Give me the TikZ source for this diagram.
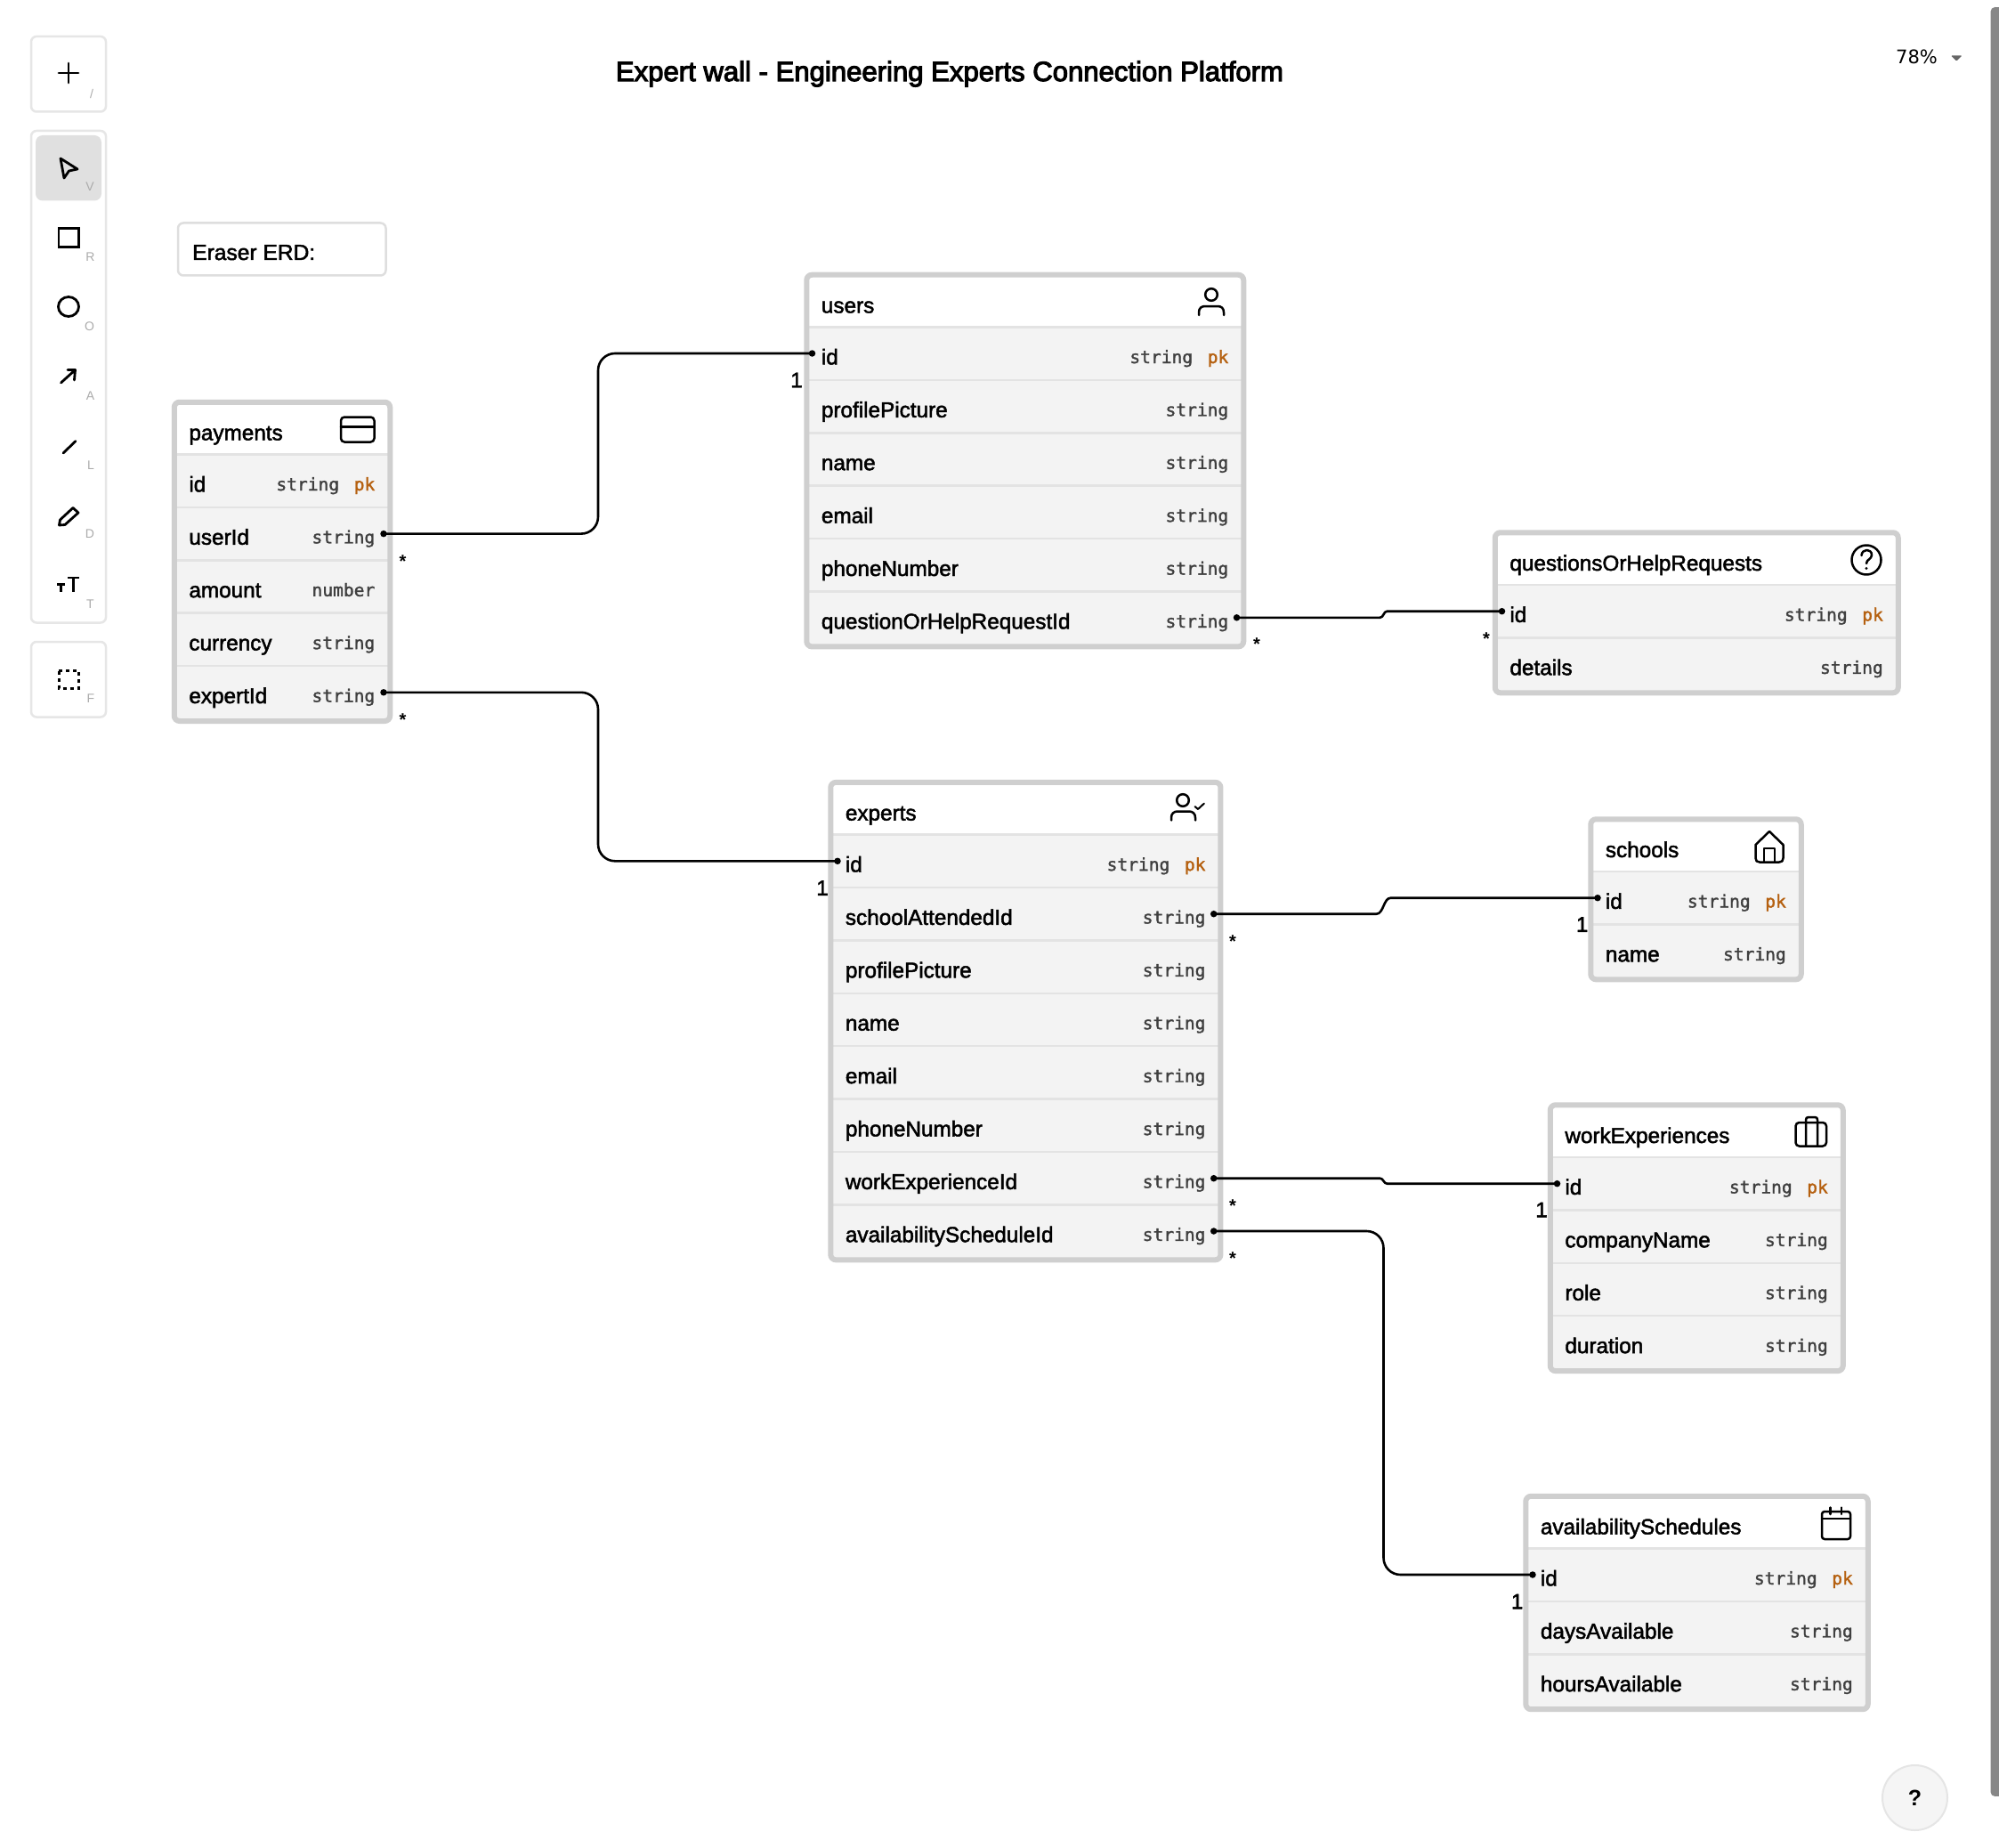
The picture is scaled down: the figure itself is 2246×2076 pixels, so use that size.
\documentclass[tikz,border=0pt]{standalone}
\usepackage{fontspec}
\setmainfont{Liberation Sans}
\newfontfamily\monof[FakeBold=1.5]{DejaVu Sans Mono}
\newfontfamily\sansdj{DejaVu Sans}
\newfontfamily\labf[FakeBold=2.0]{Liberation Sans}
\newfontfamily\titlef[FakeBold=3.5]{Liberation Sans}
\usetikzlibrary{calc}
\definecolor{tborder}{HTML}{CFCFCF}
\definecolor{rowfill}{HTML}{F3F3F3}
\definecolor{rowline}{HTML}{E3E3E3}
\definecolor{pkc}{HTML}{B5600F}
\definecolor{typec}{HTML}{3F3F3F}
\definecolor{toolb}{HTML}{E6E6E6}
\definecolor{keyc}{HTML}{ABABAB}
\newcommand{\pk}{\hspace{16.5pt}\textcolor{pkc}{pk}}
\tikzset{
  toolbox/.style={draw=toolb,line width=2.5pt,fill=white,rounded corners=6pt},
  keylab/.style={font=\fontsize{14}{14}\selectfont,text=keyc,inner sep=0pt},
  toolicon/.style={draw=black,line width=2.8pt,line join=round,line cap=round},
  erdicon/.style={draw=black,line width=2.5pt,line join=round,line cap=round},
  tablebox/.style={draw=tborder,line width=6pt,rounded corners=6pt},
  titlelab/.style={font=\labf\fontsize{24.3}{24}\selectfont,anchor=base west,inner sep=0pt},
  rowlab/.style={font=\labf\fontsize{24.3}{24}\selectfont,anchor=base west,inner sep=0pt},
  typelab/.style={font=\monof\fontsize{19.6}{20}\selectfont,text=typec,anchor=base east,inner sep=0pt},
  conn/.style={draw=black,line width=2.6pt,line join=round},
  dot/.style={circle,fill=black,inner sep=0pt,minimum size=7.5pt},
  one/.style={font=\labf\fontsize{24}{24}\selectfont,inner sep=0pt},
  many/.style={font=\bfseries\fontsize{20}{20}\selectfont,inner sep=0pt}
}
% #1 name, #2 left, #3 right, #4 top, #5 number of rows, #6 title, #7 rows
\newcommand{\erdtable}[7]{%
  \pgfmathsetmacro\hh{#4+61}
  \pgfmathsetmacro\bb{#4+61+59.4*#5+2.5}
  \fill[white,rounded corners=6pt] (#2+2.25,#4+2.25) rectangle (#3-2.25,\bb);
  \fill[rowfill] (#2+2.25,\hh) rectangle (#3-2.25,\bb);
  \draw[rowline,line width=2.5pt] (#2+2.25,\hh) -- (#3-2.25,\hh);
  \node[titlelab] (#1-title) at (#2+18.7,#4+45) {#6};
  \foreach \lab/\typ [count=\i] in {#7} {
    \pgfmathsetmacro\ry{\hh+59.4*(\i-0.5)+12.2}
    \pgfmathsetmacro\ty{\hh+59.4*(\i-0.5)+10.8}
    \node[rowlab] (#1-\i) at (#2+18.7,\ry) {\lab};
    \node[typelab] (#1-type-\i) at (#3-19,\ty) {\typ};
    \ifnum\i<#5\relax
      \pgfmathsetmacro\ly{\hh+59.4*\i}
      \draw[rowline,line width=2.5pt] (#2+2.25,\ly) -- (#3-2.25,\ly);
    \fi
  }
  \path[tablebox] (#2+2.25,#4+2.25) rectangle (#3-2.25,\bb);
}
\begin{document}
\begin{tikzpicture}[x=1pt,y=-1pt]
\useasboundingbox (0,0) rectangle (2246,2076);
\fill[white] (0,0) rectangle (2246,2076);

% toolbar
\path[toolbox] (35,41) rectangle (119,125.5);
\path[toolbox] (35,147) rectangle (119,699.5);
\path[toolbox] (35,721) rectangle (119,805.5);
\fill[black!12,rounded corners=8pt] (40,152) rectangle (114,225.5);
\draw[toolicon] (66,82) -- (88,82) (77,71) -- (77,93);
\draw[toolicon] (68,178) -- (87,190) -- (77.5,192) -- (72,200) -- cycle;
\draw[toolicon,line cap=butt,line join=miter] (66,256.5) rectangle (88.5,277.5);
\draw[toolicon] (77,344.5) ellipse (11.5pt and 11pt);
\draw[toolicon] (68.5,430) -- (84.5,415.5) (76,415.5) -- (84.5,415.5) -- (83.5,427);
\draw[toolicon] (71,509) -- (85,495.5);
\draw[toolicon] (66.5,590) -- (67.5,584) -- (82,570.5) -- (88,576) -- (73,589.5) -- cycle;
\draw[toolicon,line cap=butt,line join=miter] (76,649) -- (89,649) (82.5,649) -- (82.5,664.5);
\draw[toolicon,line cap=butt,line join=miter] (64,656.5) -- (73,656.5) (68.5,656.5) -- (68.5,664.5);
\draw[toolicon,line width=3pt,dash pattern=on 4.5pt off 3.5pt,line cap=butt,line join=miter] (66,753.5) rectangle (88.5,773);
\node[keylab] (keyslash) at (103,105) {/};
\node[keylab] (keyv) at (101,210) {V};
\node[keylab] (keyr) at (101.5,289) {R};
\node[keylab] (keyo) at (100.5,367) {O};
\node[keylab] (keya) at (101.5,445) {A};
\node[keylab] (keyl) at (102,523) {L};
\node[keylab] (keyd) at (101,600) {D};
\node[keylab] (keyt) at (101.5,679) {T};
\node[keylab] (keyf) at (102,785) {F};

% title and top right
\node[inner sep=0pt,font=\titlef\fontsize{31.1}{31}\selectfont] (title) at (1067,83) {Expert wall - Engineering Experts Connection Platform};
\node[inner sep=0pt,font=\sansdj\fontsize{21}{21}\selectfont] (zoomlab) at (2153.5,64) {78\%};
\fill[black!60,rounded corners=1pt] (2192,62.5) -- (2204.5,62.5) -- (2198.2,68.5) -- cycle;
\fill[black!47,rounded corners=5pt] (2236.5,8) rectangle (2246,2018);
\fill[black!47] (2241,8) rectangle (2246,2018);

% help button
\draw[fill=black!4,draw=black!10,line width=2pt] (2151.5,2019.5) circle (36.5pt);
\node[inner sep=0pt,font=\bfseries\fontsize{25}{25}\selectfont] (help) at (2151.5,2020) {?};

% note
\draw[draw=black!13,line width=2.5pt,fill=white,rounded corners=6pt] (200,250.5) rectangle (433.5,309.5);
\node[inner sep=0pt,anchor=base west,font=\labf\fontsize{24.6}{24}\selectfont] (note) at (216,292) {Eraser ERD:};

% tables
\erdtable{users}{904}{1399.5}{306.5}{6}{users}{id/string\pk,profilePicture/string,name/string,email/string,phoneNumber/string,questionOrHelpRequestId/string}
\erdtable{pay}{193.5}{440.5}{449.5}{5}{payments}{id/string\pk,userId/string,amount/number,currency/string,expertId/string}
\erdtable{ques}{1677.5}{2135}{596}{2}{questionsOrHelpRequests}{id/string\pk,details/string}
\erdtable{exp}{931}{1373.7}{876.6}{8}{experts}{id/string\pk,schoolAttendedId/string,profilePicture/string,name/string,email/string,phoneNumber/string,workExperienceId/string,availabilityScheduleId/string}
\erdtable{sch}{1785}{2026}{918}{2}{schools}{id/string\pk,name/string}
\erdtable{work}{1739.5}{2073}{1239}{4}{workExperiences}{id/string\pk,companyName/string,role/string,duration/string}
\erdtable{avail}{1712}{2101}{1678.5}{3}{availabilitySchedules}{id/string\pk,daysAvailable/string,hoursAvailable/string}

% icons
\draw[erdicon] (1361,331) circle (6.8pt);
\draw[erdicon] (1347,354) -- (1347,351) .. controls (1347,346) and (1350,344) .. (1354,344) -- (1368,344) .. controls (1372,344) and (1375,346) .. (1375,351) -- (1375,354);
\draw[erdicon,rounded corners=4pt] (383,468.5) rectangle (420.5,496.5);
\draw[erdicon] (383,479.5) -- (420.5,479.5);
\draw[erdicon] (2097,629) circle (16.5pt);
\draw[erdicon] (2091.5,624) .. controls (2092,616) and (2103,616) .. (2103,623.5) .. controls (2103,628) and (2097,628.5) .. (2097,633);
\fill (2097,638.5) circle (1.6pt);
\draw[erdicon] (1329,899) circle (6.8pt);
\draw[erdicon] (1316,921.5) -- (1316,918.5) .. controls (1316,914) and (1319,911.5) .. (1323,911.5) -- (1336,911.5) .. controls (1340,911.5) and (1343,914) .. (1343,918.5) -- (1343,921.5);
\draw[draw=black,line width=2pt,line cap=round,line join=round] (1342.5,906) -- (1346,909) -- (1353,902.5);
\draw[erdicon] (1988,934) -- (1972.5,949) -- (1972.5,964) .. controls (1972.5,967) and (1974,968.5) .. (1977,968.5) -- (1999,968.5) .. controls (2002,968.5) and (2003.5,967) .. (2003.5,964) -- (2003.5,949) -- cycle;
\draw[erdicon] (1982,968.5) -- (1982,953) -- (1994,953) -- (1994,968.5);
\draw[erdicon,rounded corners=4pt] (2017.5,1261) rectangle (2052,1287.5);
\draw[erdicon] (2029,1287.5) -- (2029,1258) .. controls (2029,1256) and (2030,1255) .. (2032,1255) -- (2039,1255) .. controls (2041,1255) and (2042,1256) .. (2042,1258) -- (2042,1287.5);
\draw[erdicon,rounded corners=3pt] (2047,1698) rectangle (2079,1729);
\draw[erdicon] (2047,1706) -- (2079,1706) (2056.5,1693.5) -- (2056.5,1701) (2069,1693.5) -- (2069,1701);

% connector ends
\node[dot] (d-pay-user) at (431,599.6) {};
\node[dot] (d-pay-exp) at (431,777.8) {};
\node[dot] (d-users-id) at (912.5,397) {};
\node[dot] (d-exp-id) at (941,967.3) {};
\node[dot] (d-users-q) at (1389.5,693.8) {};
\node[dot] (d-ques-id) at (1687.5,686.7) {};
\node[dot] (d-exp-sch) at (1363.7,1026.7) {};
\node[dot] (d-sch-id) at (1795,1008.7) {};
\node[dot] (d-exp-work) at (1363.7,1323.7) {};
\node[dot] (d-work-id) at (1749.5,1329.7) {};
\node[dot] (d-exp-av) at (1363.7,1383) {};
\node[dot] (d-av-id) at (1722,1769) {};
\coordinate (laneA) at (672,0);
\coordinate (laneB) at (1554.5,0);

\draw[conn,rounded corners=19pt] (d-pay-user.center) -- (laneA |- d-pay-user) -- (laneA |- d-users-id) -- (d-users-id.center);
\draw[conn,rounded corners=19pt] (d-pay-exp.center) -- (laneA |- d-pay-exp) -- (laneA |- d-exp-id) -- (d-exp-id.center);
\draw[conn,rounded corners=19pt] (d-exp-av.center) -- (laneB |- d-exp-av) -- (laneB |- d-av-id) -- (d-av-id.center);
\draw[conn] (d-users-q.center) -- ([xshift=-4pt]laneB |- d-users-q) .. controls (laneB |- d-users-q) and (laneB |- d-ques-id) .. ([xshift=4pt]laneB |- d-ques-id) -- (d-ques-id.center);
\draw[conn] (d-exp-sch.center) -- ([xshift=-8pt]laneB |- d-exp-sch) .. controls (laneB |- d-exp-sch) and (laneB |- d-sch-id) .. ([xshift=8pt]laneB |- d-sch-id) -- (d-sch-id.center);
\draw[conn] (d-exp-work.center) -- ([xshift=-4pt]laneB |- d-exp-work) .. controls (laneB |- d-exp-work) and (laneB |- d-work-id) .. ([xshift=4pt]laneB |- d-work-id) -- (d-work-id.center);

% cardinalities
\node[many] (m1) at (452.6,630.5) {*};
\node[many] (m2) at (452.6,808.5) {*};
\node[many] (m3) at (1412,723.5) {*};
\node[many] (m4) at (1670,717.5) {*};
\node[many] (m5) at (1385,1057.5) {*};
\node[many] (m6) at (1385,1354.5) {*};
\node[many] (m7) at (1385,1413.5) {*};
\node[one] (o1) at (895,427) {1};
\node[one] (o2) at (924,997.5) {1};
\node[one] (o3) at (1777.6,1038.5) {1};
\node[one] (o4) at (1732,1359) {1};
\node[one] (o5) at (1704.6,1799) {1};
\end{tikzpicture}
\end{document}
